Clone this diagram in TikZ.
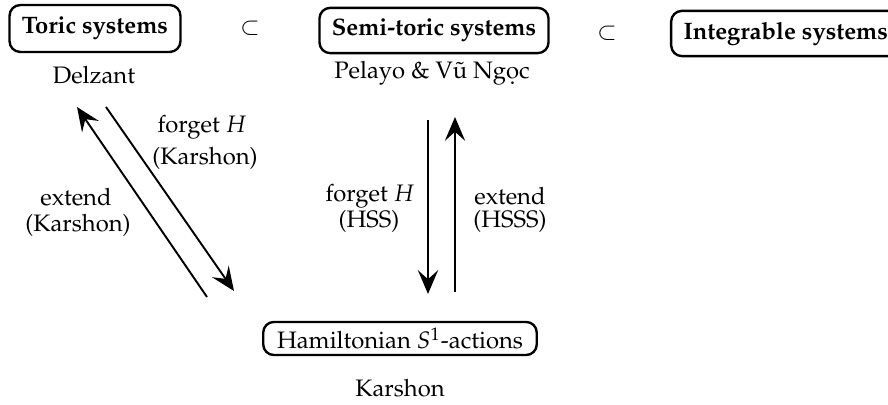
\documentclass[tikz,border=0pt]{standalone}
\usepackage[T1]{fontenc}
\usepackage{mathpazo}
\usetikzlibrary{arrows.meta}
\begin{document}
\begin{tikzpicture}[x=0.42pt,y=-0.42pt,
  sysbox/.style={draw,line width=1pt,rounded corners=4.5pt,inner xsep=5.2pt,inner ysep=0pt,font=\bfseries},
  hambox/.style={draw,line width=1pt,rounded corners=4.5pt,inner xsep=5.8pt,minimum height=13.9pt,inner ysep=0pt},
  lbl/.style={inner sep=0pt,align=center},
  arr/.style={line width=0.8pt,-{Stealth[length=10pt,width=8.5pt,inset=3.8pt]}}]
\useasboundingbox (0,0) rectangle (888,405);
\node[sysbox,minimum height=19.7pt] (toric) at (95,28.5) {Toric systems};
\node[lbl] (sub1) at (250,28) {$\subset$};
\node[sysbox,minimum height=19pt] (semi) at (434,30.5) {Semi-toric systems};
\node[lbl] (sub2) at (607,33) {$\subset$};
\node[sysbox,minimum height=19pt,anchor=west] (integ) at (670,33.5) {Integrable systems};
\node[lbl] (delzant) at (94,75) {Delzant};
\node[lbl] (pelayo) at (432,73) {Pelayo \& V\~u Ng\d{o}c};
\node[hambox] (ham) at (400,338.5) {Hamiltonian $S^1$-actions};
\node[lbl] (karshon) at (400,388) {Karshon};
% left arrows
\coordinate (e1s) at (207,297);
\coordinate (e1t) at (77,107);
\coordinate (f1s) at (106,107);
\coordinate (f1t) at (234,291);
\draw[arr] (e1s) -- (e1t);
\draw[arr] (f1s) -- (f1t);
\node[lbl] (l1) at (202,127) {forget $H$};
\node[lbl] (l2) at (205,158) {(Karshon)};
\node[lbl] (l3) at (76,197) {extend};
\node[lbl] (l4) at (78,225) {(Karshon)};
% vertical arrows
\coordinate (f2s) at (428,120);
\coordinate (f2t) at (428,294);
\coordinate (e2s) at (455,292);
\coordinate (e2t) at (455,117);
\draw[arr] (f2s) -- (f2t);
\draw[arr] (e2s) -- (e2t);
\node[lbl] (l5) at (370,196) {forget $H$};
\node[lbl] (l6) at (369,221) {(HSS)};
\node[lbl] (l7) at (510,196) {extend};
\node[lbl] (l8) at (510,221) {(HSSS)};
\end{tikzpicture}
\end{document}
